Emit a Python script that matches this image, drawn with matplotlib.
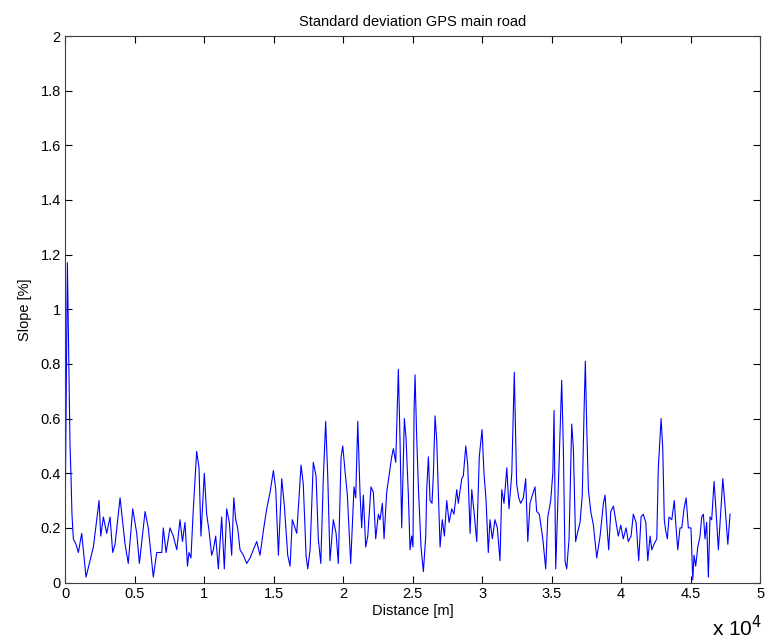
#!/usr/bin/env python3
"""Standard deviation of GPS slope along the main road."""

import matplotlib

matplotlib.use("Agg")
import matplotlib.pyplot as plt
from matplotlib.ticker import FuncFormatter, MultipleLocator

plt.rcParams["font.family"] = ["Liberation Sans", "DejaVu Sans"]

# distance along the road [m]
distance = [
    0, 40, 170, 360, 430, 500, 600, 790, 960, 1200, 1510, 1800, 2040, 2210, 2450,
    2570, 2760, 3000, 3240, 3430, 3600, 3960, 4320, 4550, 4870, 5160, 5350, 5760,
    5990, 6350, 6600, 6960, 7070, 7270, 7550, 7790, 8040, 8270, 8450, 8630, 8810,
    8920, 9060, 9230, 9470, 9640, 9780, 10020, 10190, 10360, 10550, 10670, 10840,
    11030, 11270, 11460, 11630, 11820, 11990, 12140, 12280, 12420, 12590, 12830,
    13070, 13310, 13550, 13790, 14030, 14270, 14510, 14750, 14990, 15160, 15350,
    15590, 15780, 16020, 16190, 16350, 16670, 16980, 17140, 17340, 17460, 17630,
    17860, 18060, 18220, 18400, 18580, 18750, 18900, 19060, 19300, 19500, 19660,
    19860, 19980, 20140, 20310, 20550, 20790, 20910, 21060, 21220, 21340, 21460,
    21630, 21780, 22010, 22180, 22350, 22540, 22660, 22830, 22950, 23140, 23330,
    23500, 23620, 23790, 23980, 24100, 24220, 24410, 24530, 24700, 24820, 24940,
    25030, 25110, 25180, 25300, 25420, 25610, 25780, 25950, 26020, 26140, 26260,
    26400, 26500, 26620, 26740, 26860, 26980, 27140, 27290, 27460, 27630, 27820,
    27980, 28180, 28290, 28540, 28650, 28830, 28970, 29140, 29260, 29420, 29620,
    29800, 30000, 30140, 30290, 30450, 30570, 30740, 30930, 31100, 31290, 31420,
    31580, 31780, 31940, 32140, 32320, 32490, 32640, 32780, 32970, 33140, 33290,
    33450, 33620, 33810, 33930, 34120, 34370, 34580, 34730, 34940, 35090, 35180,
    35300, 35560, 35730, 35850, 35970, 36090, 36260, 36450, 36570, 36730, 36860,
    37050, 37210, 37340, 37430, 37530, 37650, 37820, 38010, 38250, 38490, 38730,
    38850, 39010, 39110, 39260, 39450, 39640, 39800, 39980, 40160, 40360, 40520,
    40720, 40880, 41080, 41270, 41440, 41600, 41780, 41920, 42090, 42210, 42370,
    42570, 42680, 42880, 43000, 43110, 43210, 43330, 43450, 43650, 43830, 43930,
    44080, 44240, 44370, 44530, 44680, 44840, 45030, 45160, 45250, 45370, 45520,
    45680, 45800, 45920, 46040, 46160, 46280, 46400, 46520, 46690, 46810, 47000,
    47170, 47320, 47480, 47680, 47840,
]

# standard deviation of the slope [%]
slope_std = [
    0.12, 0.42, 1.17, 0.50, 0.39, 0.25, 0.16, 0.14, 0.11, 0.18, 0.02, 0.08, 0.13,
    0.20, 0.30, 0.17, 0.24, 0.18, 0.24, 0.11, 0.14, 0.31, 0.14, 0.07, 0.27, 0.18,
    0.07, 0.26, 0.20, 0.02, 0.11, 0.11, 0.20, 0.11, 0.20, 0.17, 0.12, 0.23, 0.15,
    0.22, 0.06, 0.11, 0.09, 0.27, 0.48, 0.42, 0.17, 0.40, 0.25, 0.19, 0.10, 0.12,
    0.17, 0.05, 0.24, 0.05, 0.27, 0.22, 0.10, 0.31, 0.23, 0.20, 0.12, 0.10, 0.07,
    0.09, 0.12, 0.15, 0.10, 0.19, 0.27, 0.33, 0.41, 0.34, 0.10, 0.38, 0.28, 0.10,
    0.06, 0.23, 0.18, 0.43, 0.36, 0.10, 0.05, 0.12, 0.44, 0.39, 0.16, 0.07, 0.38,
    0.59, 0.39, 0.08, 0.23, 0.18, 0.07, 0.46, 0.50, 0.41, 0.32, 0.07, 0.35, 0.31,
    0.59, 0.33, 0.20, 0.32, 0.13, 0.17, 0.35, 0.33, 0.16, 0.25, 0.23, 0.29, 0.16,
    0.33, 0.40, 0.46, 0.49, 0.44, 0.78, 0.52, 0.20, 0.60, 0.53, 0.32, 0.12, 0.17,
    0.13, 0.63, 0.76, 0.53, 0.35, 0.13, 0.04, 0.17, 0.34, 0.46, 0.30, 0.29, 0.40,
    0.61, 0.52, 0.32, 0.13, 0.23, 0.17, 0.30, 0.22, 0.27, 0.25, 0.34, 0.29, 0.38,
    0.39, 0.50, 0.43, 0.18, 0.34, 0.26, 0.15, 0.46, 0.56, 0.40, 0.30, 0.11, 0.23,
    0.16, 0.23, 0.20, 0.08, 0.34, 0.29, 0.42, 0.27, 0.40, 0.77, 0.36, 0.31, 0.29,
    0.31, 0.38, 0.15, 0.29, 0.32, 0.35, 0.26, 0.25, 0.16, 0.05, 0.24, 0.30, 0.40,
    0.63, 0.05, 0.46, 0.74, 0.49, 0.08, 0.05, 0.16, 0.58, 0.49, 0.15, 0.18, 0.22,
    0.32, 0.63, 0.81, 0.57, 0.34, 0.26, 0.21, 0.09, 0.17, 0.29, 0.32, 0.19, 0.12,
    0.26, 0.28, 0.22, 0.17, 0.21, 0.16, 0.20, 0.15, 0.17, 0.25, 0.22, 0.08, 0.24,
    0.25, 0.22, 0.08, 0.17, 0.12, 0.14, 0.16, 0.42, 0.60, 0.49, 0.23, 0.19, 0.16,
    0.24, 0.23, 0.30, 0.22, 0.12, 0.20, 0.20, 0.27, 0.31, 0.20, 0.20, 0.01, 0.10,
    0.06, 0.13, 0.17, 0.24, 0.25, 0.16, 0.22, 0.02, 0.24, 0.23, 0.37, 0.28, 0.12,
    0.26, 0.38, 0.28, 0.14, 0.25,
]

fig = plt.figure(figsize=(7.74, 6.43), dpi=100)
ax = fig.add_axes([0.084, 0.094, 0.898, 0.850])

ax.plot(distance, slope_std, color="#0000ff", linewidth=0.8)

ax.set_xlim(0, 50000)
ax.set_ylim(0, 2)
ax.xaxis.set_major_locator(MultipleLocator(5000))
ax.yaxis.set_major_locator(MultipleLocator(0.2))
ax.xaxis.set_major_formatter(FuncFormatter(lambda v, _: f"{v / 1e4:g}"))
ax.yaxis.set_major_formatter(FuncFormatter(lambda v, _: f"{v:g}"))
ax.tick_params(direction="in", top=True, right=True, length=5, width=0.8,
               labelsize=10.5, colors="black", pad=3)
for spine in ax.spines.values():
    spine.set_linewidth(0.8)
    spine.set_color("#404040")

ax.set_title("Standard deviation GPS main road", fontsize=10.5, pad=7)
ax.set_xlabel("Distance [m]", fontsize=10.5, labelpad=2)
ax.set_ylabel("Slope [%]", fontsize=10.5, labelpad=6)

fig.text(0.985, 0.005, r"x 10$^{4}$", ha="right", va="bottom", fontsize=15)

fig.savefig("out.png", dpi=100)
